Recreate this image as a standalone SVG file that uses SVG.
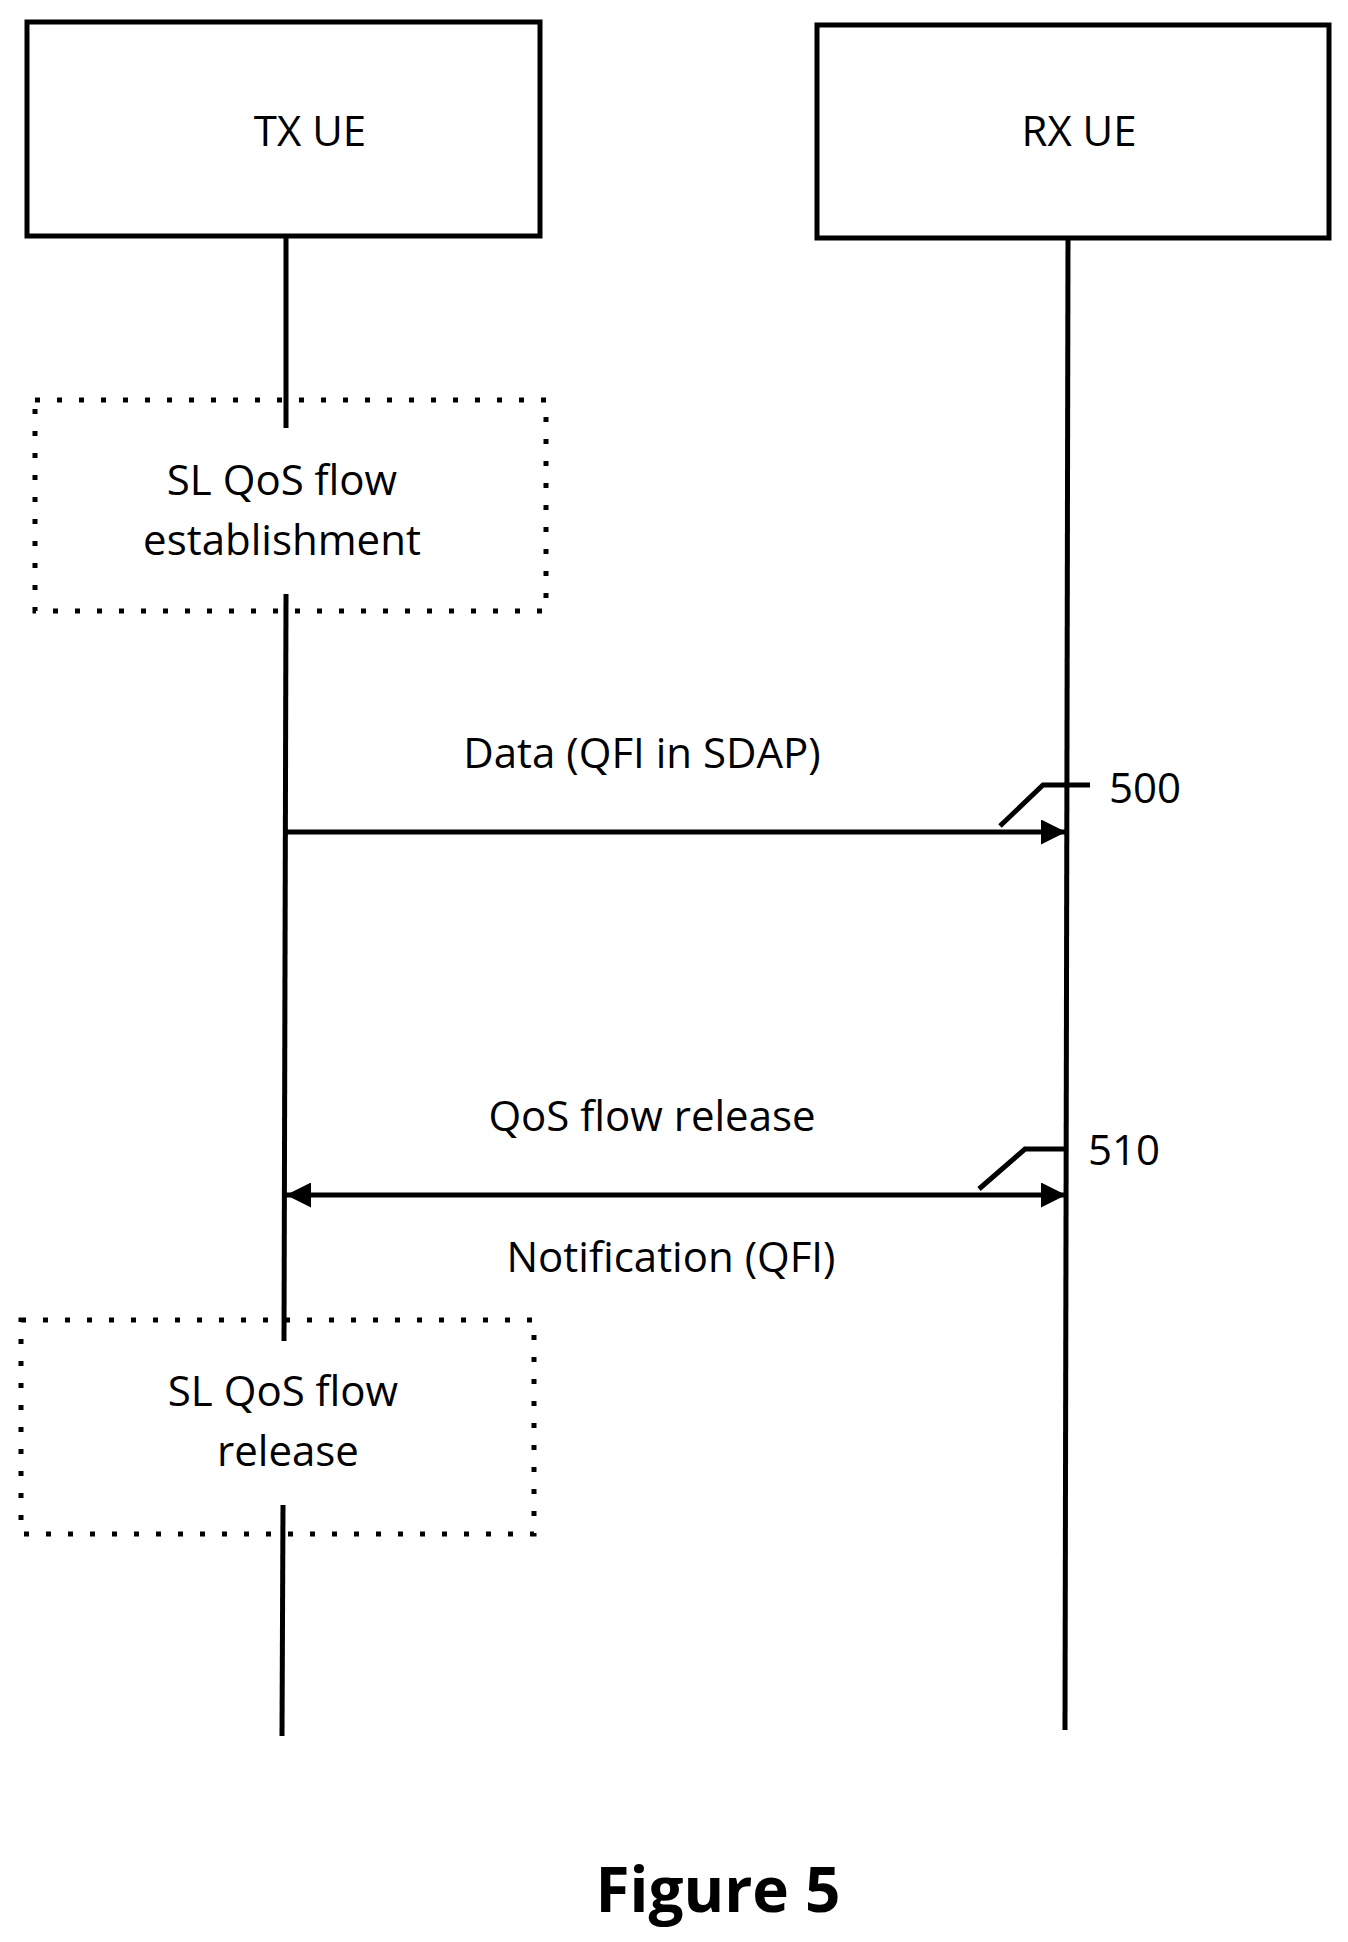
<svg xmlns="http://www.w3.org/2000/svg" width="1348" height="1942" viewBox="0 0 1348 1942">
<style>
text{font-family:"Open Sans","Liberation Sans",sans-serif;font-size:42px;fill:#000;text-anchor:middle}
.box{fill:#fff;stroke:#000;stroke-width:5}
.dot{fill:none;stroke:#000;stroke-width:5;stroke-dasharray:5 17}
.l{stroke:#000;stroke-width:5;fill:none}
</style>
<defs>
<marker id="ah" viewBox="0 0 10 10" refX="10" refY="5" markerWidth="5" markerHeight="5" orient="auto-start-reverse" markerUnits="strokeWidth"><path d="M0,0L10,5L0,10z" fill="#000"/></marker>
</defs>
<rect width="1348" height="1942" fill="#fff"/>
<g id="txue"><rect class="box" x="27" y="22" width="513" height="214"/><text x="310" y="146">TX UE</text></g>
<g id="rxue"><rect class="box" x="817" y="25" width="512" height="213"/><text x="1079" y="146">RX UE</text></g>
<g id="lifelines">
<line class="l" x1="286" y1="236" x2="286" y2="428"/>
<line class="l" x1="286" y1="594" x2="284" y2="1341"/>
<line class="l" x1="283" y1="1505" x2="282" y2="1736"/>
<line class="l" x1="1068" y1="238" x2="1065" y2="1730"/>
</g>
<g id="est"><rect class="dot" x="35" y="400" width="511" height="211"/><text x="282" y="495">SL QoS flow</text><text x="282" y="555">establishment</text></g>
<g id="rel"><rect class="dot" x="21" y="1320" width="513" height="214"/><text x="283" y="1406">SL QoS flow</text><text x="288" y="1466">release</text></g>
<g id="connectors">
<line class="l" x1="286" y1="832" x2="1066" y2="832" marker-end="url(#ah)"/>
<line class="l" x1="286" y1="1195" x2="1066" y2="1195" marker-start="url(#ah)" marker-end="url(#ah)"/>
<polyline class="l" points="1000,826 1043,785 1090,785" stroke-width="4"/>
<polyline class="l" points="979,1189 1025,1149 1066,1149" stroke-width="4"/>
</g>
<g id="labels">
<text x="642" y="768">Data (QFI in SDAP)</text>
<text x="1145" y="803">500</text>
<text x="652" y="1131">QoS flow release</text>
<text x="1124" y="1165">510</text>
<text x="671" y="1272">Notification (QFI)</text>
<text x="718" y="1912" style="font-size:62px;font-weight:bold">Figure 5</text>
</g>
</svg>
